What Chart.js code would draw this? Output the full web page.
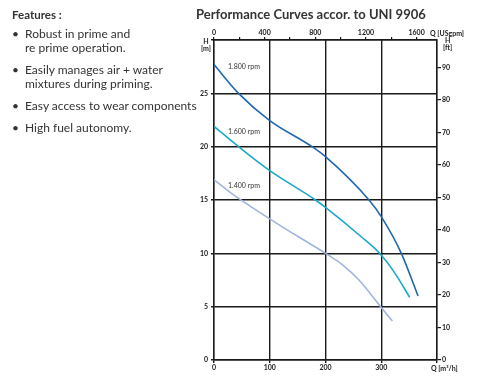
<!DOCTYPE html>
<html>
<head>
<meta charset="utf-8">
<script src="https://cdn.jsdelivr.net/npm/chart.js@4/dist/chart.umd.min.js"></script>
<style>
  html, body { margin: 0; padding: 0; background: #fff; }
  body { width: 478px; height: 376px; position: relative; overflow: hidden;
         font-family: Lato, "Open Sans", sans-serif; color: #333; }
  #chart { position: absolute; left: 0; top: 0; }
  .txt { position: absolute; white-space: nowrap; }
  .features h4 { position: absolute; left: 12px; top: 8px; margin: 0; font-size: 11.5px; font-weight: bold; }
  .features ul { position: absolute; left: 12px; top: 27px; margin: 0; padding: 0; list-style: none;
                 font-size: 12px; line-height: 14px; }
  .features li { position: relative; padding-left: 13px; margin-bottom: 8px; }
  .features li::before { content: "\2022"; position: absolute; left: 0; top: 0; }
  .title { left: 196px; top: 6px; font-size: 13px; font-weight: bold; }
  .axl { font-size: 7px; color: #222; font-weight: bold; }
  .rpm { font-size: 7px; color: #333; }
</style>
</head>
<body>
<canvas id="chart" width="478" height="376"></canvas>

<div class="features">
  <h4>Features :</h4>
  <ul>
    <li>Robust in prime and<br>re prime operation.</li>
    <li>Easily manages air + water<br>mixtures during priming.</li>
    <li>Easy access to wear components</li>
    <li>High fuel autonomy.</li>
  </ul>
</div>

<div class="txt title">Performance Curves accor. to UNI 9906</div>
<div class="txt axl" style="left:201px; top:38px; text-align:center; line-height:7px;">H<br>[m]</div>
<div class="txt axl" style="left:443px; top:37px; text-align:center; line-height:7px;">H<br>[ft]</div>
<div class="txt axl" style="left:430px; top:29px;">Q [USgpm]</div>
<div class="txt axl" style="left:431px; top:364px;">Q [m³/h]</div>
<div class="txt rpm" style="left:228px; top:62px;">1.800 rpm</div>
<div class="txt rpm" style="left:228px; top:127px;">1.600 rpm</div>
<div class="txt rpm" style="left:228px; top:181px;">1.400 rpm</div>

<script>
// curves, Q in m3/h, H in m
const q1800 = [0, 44, 100, 176, 200, 278, 300, 336, 366];
const h1800 = [27.7, 25, 22.45, 20, 19.06, 15, 13.44, 10, 6.0];

const q1600 = [0, 44, 100, 182, 200, 263, 297, 325, 351];
const h1600 = [21.9, 20, 17.75, 15, 14.3, 11.6, 10, 8.1, 5.87];

const q1400 = [0, 32, 119, 200, 230, 260, 299, 320];
const h1400 = [16.9, 15.6, 12.6, 10, 8.95, 7.5, 5, 3.65];

const qMax = 400;
const hMax = 30;
const GPM_PER_M3H = 4.4029;
const FT_PER_M = 3.2808;

function toPoints(qs, hs) {
  return qs.map((q, i) => ({ x: q, y: hs[i] }));
}

function curve(label, qs, hs, color) {
  return {
    label: label,
    data: toPoints(qs, hs),
    borderColor: color,
    backgroundColor: color,
    borderWidth: 1.6,
    pointRadius: 0,
    cubicInterpolationMode: 'monotone',
    fill: false
  };
}

const tickFont = { family: 'Lato, "Open Sans", sans-serif', size: 7, weight: 'bold' };
const black = '#1a1a1a';

const ctx = document.getElementById('chart').getContext('2d');
new Chart(ctx, {
  type: 'line',
  data: {
    datasets: [
      curve('1.800 rpm', q1800, h1800, '#1f67b1'),
      curve('1.600 rpm', q1600, h1600, '#1ba8c9'),
      curve('1.400 rpm', q1400, h1400, '#a1b4df')
    ]
  },
  options: {
    responsive: false,
    animation: false,
    layout: { padding: 0 },
    plugins: { legend: { display: false }, tooltip: { enabled: false } },
    scales: {
      x: {
        type: 'linear', position: 'bottom', min: 0, max: qMax,
        afterFit: s => { s.height = 16; },
        ticks: {
          stepSize: 100, color: black, font: tickFont, padding: 1, maxRotation: 0,
          callback: v => (v === qMax ? '' : v)
        },
        grid: { color: black, lineWidth: 1.4, tickLength: 3 },
        border: { color: black, width: 1.4 }
      },
      x2: {
        type: 'linear', position: 'top', min: 0, max: qMax * GPM_PER_M3H,
        afterFit: s => { s.height = 40; },
        afterBuildTicks: s => {
          s.ticks = [0, 200, 400, 600, 800, 1000, 1200, 1400, 1600].map(v => ({ value: v }));
        },
        ticks: {
          color: black, font: tickFont, padding: 0, maxRotation: 0, autoSkip: false,
          callback: v => (v % 400 === 0 ? v : '')
        },
        grid: { drawOnChartArea: false, color: black, lineWidth: 1.2, tickLength: 3 },
        border: { color: black, width: 1.4 }
      },
      y: {
        type: 'linear', position: 'left', min: 0, max: hMax,
        afterFit: s => { s.width = 214; },
        ticks: {
          stepSize: 5, color: black, font: tickFont, padding: 3,
          callback: v => (v === hMax ? '' : v)
        },
        grid: { color: black, lineWidth: 1.4, tickLength: 3 },
        border: { color: black, width: 1.4 }
      },
      y2: {
        type: 'linear', position: 'right', min: 0, max: hMax * FT_PER_M,
        afterFit: s => { s.width = 41; },
        afterBuildTicks: s => {
          s.ticks = [0, 10, 20, 30, 40, 50, 60, 70, 80, 90].map(v => ({ value: v }));
        },
        ticks: { color: black, font: tickFont, padding: 1, autoSkip: false },
        grid: { drawOnChartArea: false, color: black, lineWidth: 1.2, tickLength: 4 },
        border: { color: black, width: 1.4 }
      }
    }
  }
});
</script>
</body>
</html>
